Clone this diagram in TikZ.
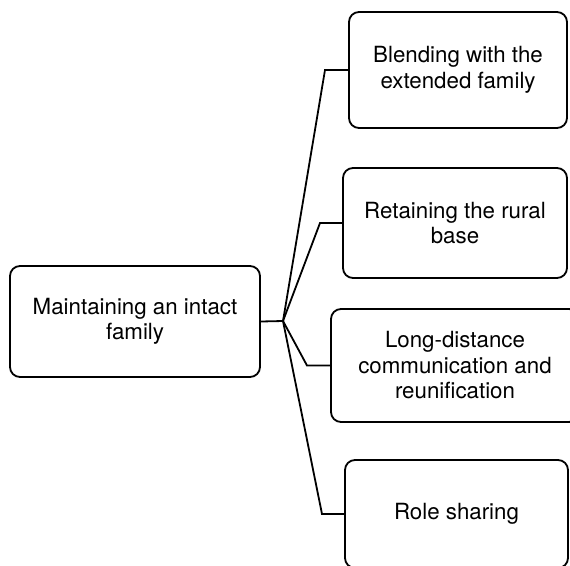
\documentclass[tikz,border=0pt]{standalone}
\usepackage{fontspec}
\setmainfont{TeX Gyre Heros}
\begin{document}
\begin{tikzpicture}[x=1pt,y=-1pt,
  box/.style={draw, line width=1.8pt, rounded corners=10pt, align=center,
    inner sep=0pt, font=\fontsize{22.3}{25.5}\selectfont},
  link/.style={line width=1.8pt, line join=miter}]
\useasboundingbox (0,0) rectangle (570,565);
\begin{scope}
\clip (0,0) rectangle (570,565);
\node[box, minimum width=250pt, minimum height=111pt] (main) at (135,321.5) {Maintaining an intact\\family};
\node[box, minimum width=218pt, minimum height=116pt] (b1) at (458,70) {Blending with the\\extended family};
\node[box, minimum width=224pt, minimum height=110pt] (b2) at (455,223) {Retaining the rural\\base};
\node[box, minimum width=248pt, minimum height=113pt] (b3) at (455,365.5) {Long-distance\\communication and\\reunification};
\node[box, minimum width=223pt, minimum height=108pt] (b4) at (456.5,514) {Role sharing};
\coordinate (j) at (283,321);
\coordinate (k1) at (325,70);
\coordinate (k2) at (320,223);
\coordinate (k3) at (307,365.5);
\coordinate (k4) at (322,514);
\draw[link] (main.east) -- (j);
\draw[link] (j) -- (k1) -- (b1.west);
\draw[link] (j) -- (k2) -- (b2.west);
\draw[link] (j) -- (k3) -- (b3.west);
\draw[link] (j) -- (k4) -- (b4.west);
\end{scope}
\end{tikzpicture}
\end{document}
